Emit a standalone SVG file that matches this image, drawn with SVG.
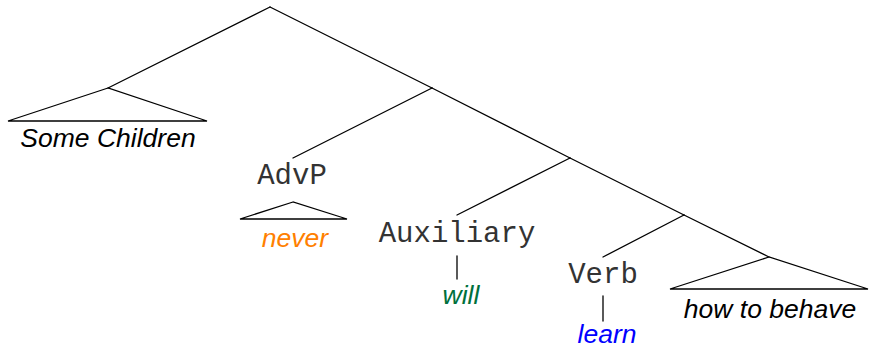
<svg xmlns="http://www.w3.org/2000/svg" width="869" height="350" viewBox="0 0 869 350">
<style>
.e{stroke:#000;stroke-width:1.3;fill:none;stroke-linecap:round}
.m{font-family:"Liberation Mono","Courier New",monospace;font-size:29px;fill:#333;text-anchor:middle}
.w{font-family:"Liberation Sans",Arial,sans-serif;font-style:italic;font-size:26.5px;text-anchor:middle}
</style>
<rect width="869" height="350" fill="#fff"/>
<g id="connectors" class="e">
<path d="M270 7 L108 88"/>
<path d="M270 7 L432 88"/>
<path d="M432 88 L293 158"/>
<path d="M432 88 L570 158"/>
<path d="M570 158 L457 215"/>
<path d="M570 158 L684 215"/>
<path d="M684 215 L603 257"/>
<path d="M684 215 L769 257"/>
<path d="M457 256 L457 279"/>
<path d="M603 296 L603 321"/>
</g>
<g id="some-children">
<path class="e" d="M108 88 L8 121 L207 121 Z"/>
<text class="w" x="108" y="147" fill="#000">Some Children</text>
</g>
<g id="advp">
<text class="m" x="292" y="184">AdvP</text>
</g>
<g id="never">
<path class="e" d="M293 202 L240 219 L347 219 Z"/>
<text class="w" x="295" y="247" fill="#ff8000">never</text>
</g>
<g id="auxiliary">
<text class="m" x="457" y="242">Auxiliary</text>
</g>
<g id="will">
<text class="w" x="461" y="304" fill="#00703c">will</text>
</g>
<g id="verb">
<text class="m" x="603" y="283">Verb</text>
</g>
<g id="learn">
<text class="w" x="607" y="343" fill="#0000ff">learn</text>
</g>
<g id="how-to-behave">
<path class="e" d="M769 257 L670 289 L868 289 Z"/>
<text class="w" x="770" y="318" fill="#000">how to behave</text>
</g>
</svg>
